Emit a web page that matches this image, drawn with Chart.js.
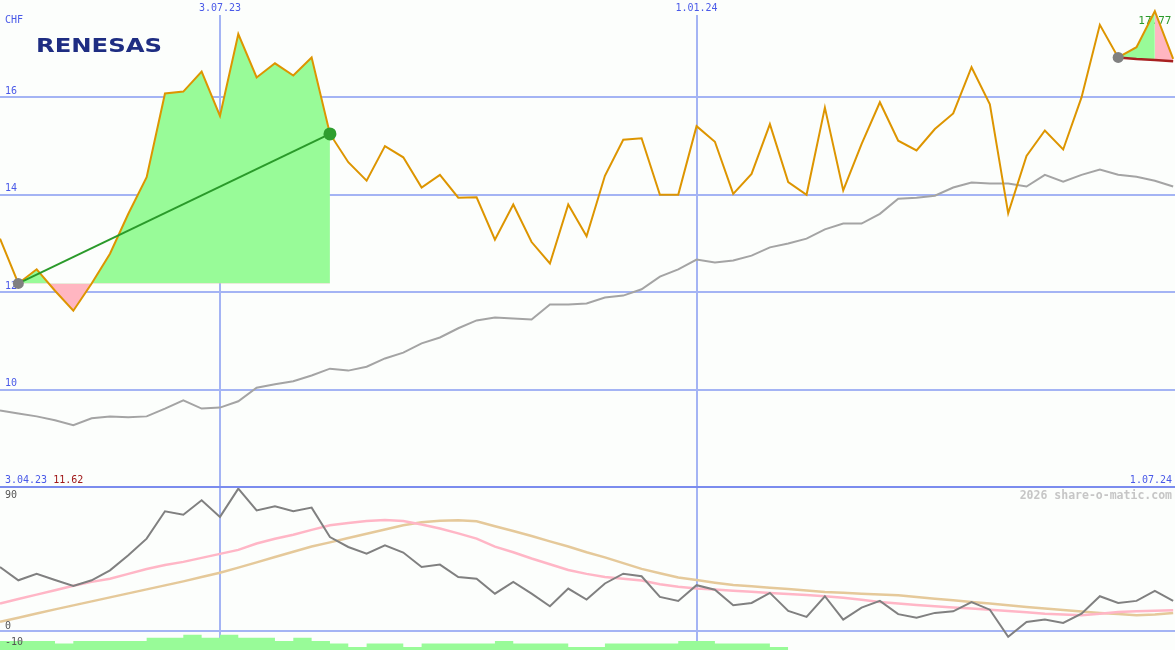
<!DOCTYPE html>
<html>
<head>
<meta charset="utf-8">
<script src="https://cdn.jsdelivr.net/npm/chart.js@4.4.1/dist/chart.umd.min.js"></script>
<style>
  html, body { margin: 0; padding: 0; background: #fcfefc; }
  #wrap { position: relative; width: 1175px; height: 650px; overflow: hidden; }
  canvas { position: absolute; left: 0; }
  #top { top: 0; z-index: 2; }
  #bot { top: 487px; z-index: 1; }
</style>
</head>
<body>
<div id="wrap">
  <canvas id="top" width="1175" height="490"></canvas>
  <canvas id="bot" width="1175" height="163"></canvas>
</div>
<script>
// weekly closes, CHF
const price = [13.10, 12.18, 12.47, 12.03, 11.62, 12.18, 12.79, 13.61, 14.36, 16.08,
               16.12, 16.53, 15.62, 17.30, 16.41, 16.70, 16.45, 16.82, 15.25, 14.67,
               14.29, 15.00, 14.77, 14.15, 14.41, 13.94, 13.95, 13.08, 13.80, 13.03,
               12.59, 13.80, 13.15, 14.39, 15.13, 15.16, 14.00, 14.00, 15.41, 15.09,
               14.02, 14.43, 15.45, 14.26, 14.00, 15.79, 14.09, 15.04, 15.90, 15.11,
               14.91, 15.35, 15.67, 16.62, 15.86, 13.62, 14.80, 15.32, 14.93, 16.00,
               17.49, 16.82, 17.03, 17.77, 16.79];
// long moving average (grey)
const avg = [9.57, 9.51, 9.45, 9.37, 9.27, 9.41, 9.45, 9.43, 9.45, 9.61,
             9.78, 9.61, 9.63, 9.76, 10.04, 10.11, 10.17, 10.29, 10.43, 10.39,
             10.47, 10.64, 10.76, 10.95, 11.07, 11.26, 11.42, 11.48, 11.46, 11.44,
             11.75, 11.75, 11.77, 11.89, 11.93, 12.06, 12.32, 12.47, 12.67, 12.61,
             12.65, 12.75, 12.92, 13.00, 13.10, 13.29, 13.41, 13.41, 13.61, 13.92,
             13.94, 13.98, 14.15, 14.25, 14.23, 14.23, 14.17, 14.41, 14.27, 14.41,
             14.52, 14.41, 14.37, 14.29, 14.17];
// lower panel oscillator and its two averages
const osc = [40.3, 32, 36.1, 32.2, 28.4, 32, 38.2, 47.6, 58, 75.1,
             73, 82, 71.6, 89.3, 75.7, 78.2, 75.1, 77.4, 59, 52.8,
             48.6, 53.9, 49.3, 40.3, 41.8, 34, 33, 23.6, 30.9, 23.6,
             15.7, 26.8, 19.9, 30, 36.1, 34.5, 21.6, 19.1, 28.9, 26.1,
             16.4, 17.8, 24.1, 12.8, 9.1, 22, 7.4, 14.9, 19.1, 10.8,
             8.6, 11.6, 12.6, 18.4, 13.6, -3.4, 5.9, 7.4, 5.3, 11.1,
             22, 17.8, 19.1, 25.3, 19.1];
const oscPink = [17.4, 20.3, 23, 25.8, 28.6, 31, 33, 36, 39, 41.5,
                 43.5, 46, 48.5, 51, 55, 58, 60.5, 63.5, 66.4, 67.8,
                 69, 69.6, 69, 66.8, 64.3, 61.3, 58, 53, 49.5, 45.6,
                 42, 38.4, 36, 34, 33, 31.8, 29.5, 28, 26.8, 26.2,
                 25.5, 24.8, 24.1, 23.4, 22.8, 22, 21, 19.8, 18.4, 17.4,
                 16.5, 15.7, 15, 14.3, 13.6, 12.8, 12, 11.1, 10.6, 10.1,
                 11, 12.2, 12.6, 13, 13.2];
const oscTan = [6, 8.6, 11.2, 13.8, 16.3, 18.8, 21.3, 23.8, 26.3, 28.8,
                31.3, 34, 36.7, 39.9, 43.2, 46.5, 49.8, 53.1, 55.7, 58.4,
                61.1, 63.7, 66.4, 68.2, 69.2, 69.5, 68.9, 65.8, 62.8, 59.7,
                56.3, 53.1, 49.5, 46.3, 42.7, 39.1, 36.4, 33.7, 32.1, 30.5,
                29, 28.2, 27.3, 26.5, 25.6, 24.7, 24.2, 23.6, 23.1, 22.6,
                21.6, 20.5, 19.5, 18.4, 17.4, 16.4, 15.3, 14.3, 13.4, 12.5,
                11.6, 10.9, 10.2, 10.6, 11.6];
// green step blocks at the bottom
const volBars = [-5.9, -5.9, -5.9, -7.6, -5.9, -5.9, -5.9, -5.9, -3.9, -3.9,
                 -2, -3.9, -2, -3.9, -3.9, -5.9, -3.9, -5.9, -7.6, -9.7,
                 -7.6, -7.6, -9.7, -7.6, -7.6, -7.6, -7.6, -5.9, -7.6, -7.6,
                 -7.6, -9.7, -9.7, -7.6, -7.6, -7.6, -7.6, -5.9, -5.9, -7.6,
                 -7.6, -7.6, -9.7, -9.7];
// base line of the last move (dark red)
const rightBase = [16.82, 16.79, 16.77, 16.74];

const xTickIdx = [12, 38];
const xTickLabels = ['3.07.23', '1.01.24'];
const firstLabel = '3.04.23';
const lastLabel = '1.07.24';
const lowLabel = '11.62';
const highLabel = '17.77';
const priceTicks = [10, 12, 14, 16];
const oscTicks = [90, 0, -10];

const trendFrom = 1, trendTo = 18;
const rightFrom = 61, rightPeak = 63;

const BG = '#fcfefc';
const GRID = '#a4b4f4';
const BLUE = '#4a5ae8';
const GREEN_FILL = '#98fb98';
const PINK_FILL = '#ffb6c1';
const MONO = '"DejaVu Sans Mono", monospace';

const toXY = (arr, from = 0, to = arr.length - 1) =>
  arr.map((v, i) => ({ x: i, y: v })).slice(from, to + 1);

const xMax = 64.1;

function xScale() {
  return {
    type: 'linear', min: 0, max: xMax,
    afterBuildTicks: s => { s.ticks = xTickIdx.map(v => ({ value: v })); },
    afterFit: s => { s.height = 0; },
    grid: { color: GRID, lineWidth: 2, drawTicks: false },
    border: { display: false },
    ticks: { display: false }
  };
}

const topLabels = {
  id: 'topLabels',
  beforeDatasetsDraw(chart) {
    const { ctx, scales: { x, y } } = chart;
    ctx.save();
    ctx.font = '10px ' + MONO;
    ctx.fillStyle = BLUE;
    ctx.textBaseline = 'bottom';
    ctx.textAlign = 'left';
    priceTicks.forEach(v => ctx.fillText(String(v), 5, y.getPixelForValue(v) - 1));
    ctx.textBaseline = 'middle';
    ctx.fillText('CHF', 5, 20);
    xTickIdx.forEach((v, k) => {
      const px = x.getPixelForValue(v);
      ctx.fillStyle = BG;
      ctx.fillRect(px - 24, 0, 48, 15);
      ctx.fillStyle = BLUE;
      ctx.textAlign = 'center';
      ctx.fillText(xTickLabels[k], px, 8);
    });
    // max label
    ctx.fillStyle = '#2a9a2a';
    ctx.textAlign = 'center';
    ctx.font = '11px ' + MONO;
    ctx.fillText(highLabel, x.getPixelForValue(rightPeak), 21);
    // logo
    ctx.fillStyle = '#1e2d82';
    ctx.font = 'bold 20px "DejaVu Sans"';
    ctx.textAlign = 'left';
    ctx.textBaseline = 'alphabetic';
    const w = ctx.measureText('RENESAS').width;
    ctx.translate(36, 52);
    ctx.scale(126 / w, 1);
    ctx.fillText('RENESAS', 0, 0);
    ctx.restore();
  },
  afterDraw(chart) {
    const { ctx, chartArea } = chart;
    ctx.save();
    ctx.strokeStyle = '#7b8cee';
    ctx.lineWidth = 2;
    ctx.beginPath();
    ctx.moveTo(0, chartArea.bottom);
    ctx.lineTo(chartArea.right, chartArea.bottom);
    ctx.stroke();
    ctx.font = '10px ' + MONO;
    ctx.textBaseline = 'bottom';
    ctx.fillStyle = BLUE;
    ctx.textAlign = 'left';
    ctx.fillText(firstLabel, 5, chartArea.bottom - 2);
    const w = ctx.measureText(firstLabel + ' ').width;
    ctx.fillStyle = '#a01818';
    ctx.fillText(lowLabel, 5 + w, chartArea.bottom - 2);
    ctx.fillStyle = BLUE;
    ctx.textAlign = 'right';
    ctx.fillText(lastLabel, chartArea.right - 3, chartArea.bottom - 2);
    ctx.restore();
  }
};

new Chart(document.getElementById('top'), {
  type: 'line',
  data: {
    datasets: [
      {
        data: [{ x: trendFrom, y: price[trendFrom] }, { x: trendTo, y: price[trendTo] }],
        borderColor: '#2a9a2a', borderWidth: 2,
        pointRadius: [5.5, 6.5], pointBorderWidth: 0,
        pointBackgroundColor: ['#808080', '#2e9e2e']
      },
      {
        data: rightBase.map((v, k) => ({ x: rightFrom + k, y: v })),
        borderColor: '#a82020', borderWidth: 2.5,
        pointRadius: [5.5, 0, 0, 0], pointBorderWidth: 0,
        pointBackgroundColor: '#808080'
      },
      {
        data: toXY(price),
        borderColor: '#dd9500', borderWidth: 2, pointRadius: 0
      },
      {
        data: toXY(avg),
        borderColor: '#a4a4a4', borderWidth: 2, pointRadius: 0
      },
      {
        data: toXY(price, trendFrom, trendTo),
        borderWidth: 0, pointRadius: 0,
        fill: { target: { value: price[trendFrom] }, above: GREEN_FILL, below: PINK_FILL }
      },
      {
        data: toXY(price, rightFrom, rightPeak),
        borderWidth: 0, pointRadius: 0,
        fill: { target: 1, above: GREEN_FILL, below: GREEN_FILL }
      },
      {
        data: toXY(price, rightPeak, price.length - 1),
        borderWidth: 0, pointRadius: 0,
        fill: { target: 1, above: PINK_FILL, below: PINK_FILL }
      }
    ]
  },
  options: {
    responsive: false,
    animation: false,
    layout: { autoPadding: false, padding: { left: 0, right: 0, top: 0, bottom: 3 } },
    plugins: { legend: { display: false }, tooltip: { enabled: false } },
    scales: {
      x: xScale(),
      y: {
        min: 8, max: 18,
        afterBuildTicks: s => { s.ticks = priceTicks.map(v => ({ value: v })); },
        afterFit: s => { s.width = 0; },
        grid: { color: GRID, lineWidth: 2, drawTicks: false },
        border: { display: false },
        ticks: { display: false }
      }
    }
  },
  plugins: [topLabels]
});

const botLabels = {
  id: 'botLabels',
  afterDraw(chart) {
    const { ctx, scales: { y }, chartArea } = chart;
    ctx.save();
    ctx.font = '10px ' + MONO;
    ctx.fillStyle = '#555555';
    ctx.textAlign = 'left';
    oscTicks.forEach(v => {
      const py = y.getPixelForValue(v);
      if (py - 12 < chartArea.top) {
        ctx.textBaseline = 'top';
        ctx.fillText(String(v), 5, py + 3);
      } else {
        ctx.textBaseline = 'bottom';
        ctx.fillText(String(v), 5, py);
      }
    });
    ctx.font = 'bold 11.5px ' + MONO;
    ctx.fillStyle = '#c6c6c6';
    ctx.textAlign = 'right';
    ctx.textBaseline = 'middle';
    ctx.fillText('2026 share-o-matic.com', chartArea.right - 3, 9);
    ctx.restore();
  }
};

new Chart(document.getElementById('bot'), {
  type: 'line',
  data: {
    datasets: [
      { data: toXY(osc), borderColor: '#808080', borderWidth: 2, pointRadius: 0 },
      { data: toXY(oscPink), borderColor: '#ffb6c6', borderWidth: 2.5, pointRadius: 0 },
      { data: toXY(oscTan), borderColor: '#e5c99a', borderWidth: 2.5, pointRadius: 0 },
      {
        data: toXY(volBars), stepped: true, borderWidth: 0, pointRadius: 0,
        backgroundColor: GREEN_FILL, fill: 'start'
      }
    ]
  },
  options: {
    responsive: false,
    animation: false,
    layout: { autoPadding: false, padding: 0 },
    plugins: { legend: { display: false }, tooltip: { enabled: false } },
    scales: {
      x: xScale(),
      y: {
        min: -11.6, max: 90.3,
        afterBuildTicks: s => { s.ticks = [{ value: 0 }]; },
        afterFit: s => { s.width = 0; },
        grid: { color: GRID, lineWidth: 2, drawTicks: false },
        border: { display: false },
        ticks: { display: false }
      }
    }
  },
  plugins: [botLabels]
});
</script>
</body>
</html>
